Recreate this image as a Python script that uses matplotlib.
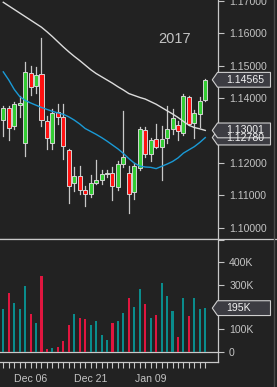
import matplotlib
matplotlib.use("Agg")
import matplotlib.pyplot as plt
from matplotlib.patches import Rectangle, Polygon
from matplotlib.lines import Line2D
from matplotlib.transforms import IdentityTransform

plt.rcParams['font.family'] = ['Liberation Sans', 'DejaVu Sans']

# ---- data ----
opens = [1.1332, 1.1369, 1.1314, 1.1380, 1.1261, 1.1479, 1.1438, 1.1475, 1.1330, 1.1262,
         1.1357, 1.1342, 1.1239, 1.1139, 1.1159, 1.1116, 1.1104, 1.1139, 1.1147, 1.1166,
         1.1168, 1.1126, 1.1196, 1.1167, 1.1109, 1.1185, 1.1301, 1.1227, 1.1275, 1.1250,
         1.1276, 1.1304, 1.1317, 1.1292, 1.1402, 1.1323, 1.1352, 1.1395]
highs = [1.1376, 1.1376, 1.1387, 1.1407, 1.1512, 1.1500, 1.1497, 1.1587, 1.1345, 1.1366,
         1.1382, 1.1382, 1.1243, 1.1186, 1.1191, 1.1129, 1.1163, 1.1209, 1.1178, 1.1178,
         1.1187, 1.1206, 1.1359, 1.1189, 1.1200, 1.1311, 1.1310, 1.1278, 1.1320, 1.1314,
         1.1376, 1.1366, 1.1330, 1.1412, 1.1406, 1.1363, 1.1402, 1.1459]
lows = [1.1283, 1.1270, 1.1304, 1.1340, 1.1220, 1.1410, 1.1417, 1.1314, 1.1242, 1.1242,
        1.1321, 1.1211, 1.1077, 1.1113, 1.1103, 1.1065, 1.1093, 1.1135, 1.1136, 1.1155,
        1.1086, 1.1117, 1.1186, 1.1044, 1.1088, 1.1177, 1.1217, 1.1206, 1.1247, 1.1146,
        1.1262, 1.1289, 1.1270, 1.1287, 1.1317, 1.1278, 1.1311, 1.1392]
closes = [1.1369, 1.1307, 1.1381, 1.1385, 1.1482, 1.1435, 1.1472, 1.1332, 1.1276, 1.1354,
          1.1340, 1.1253, 1.1129, 1.1159, 1.1117, 1.1104, 1.1138, 1.1148, 1.1166, 1.1168,
          1.1127, 1.1196, 1.1217, 1.1103, 1.1189, 1.1304, 1.1227, 1.1270, 1.1250, 1.1275,
          1.1304, 1.1338, 1.1299, 1.1406, 1.1321, 1.1354, 1.1390, 1.14565]
volumes = [193, 263, 216, 193, 293, 170, 128, 337, 12, 17, 22, 49, 119, 170, 151, 147, 119, 137,
           73, 54, 128, 137, 175, 239, 198, 281, 212, 151, 165, 309, 249, 184, 68, 239, 161,
           239, 193, 195]  # thousands
ma_slow = [1.1696, 1.1685, 1.1674, 1.1663, 1.1652, 1.1641, 1.1630, 1.1619, 1.1605, 1.1590,
           1.1574, 1.1558, 1.1543, 1.1529, 1.1516, 1.1502, 1.1488, 1.1476, 1.1466, 1.1456,
           1.1446, 1.1435, 1.1425, 1.1414, 1.1408, 1.1402, 1.1397, 1.1389, 1.1381, 1.1371,
           1.1361, 1.1351, 1.1340, 1.1328, 1.1316, 1.1309, 1.1305, 1.13001]
ma_fast = [1.1481, 1.1456, 1.1427, 1.1405, 1.1393, 1.1385, 1.1378, 1.1371, 1.1365, 1.1359,
           1.1354, 1.1350, 1.1342, 1.1332, 1.1320, 1.1306, 1.1297, 1.1288, 1.1278, 1.1267,
           1.1255, 1.1243, 1.1229, 1.1213, 1.1199, 1.1190, 1.1187, 1.1186, 1.1182, 1.1189,
           1.1196, 1.1204, 1.1215, 1.1230, 1.1240, 1.1250, 1.1263, 1.1278]
date_pos = [5, 16, 27]
date_labels = ["Dec 06", "Dec 21", "Jan 09"]
price_ticks = [1.10, 1.11, 1.12, 1.13, 1.14, 1.15, 1.16, 1.17]
vol_ticks = [0, 100, 200, 300, 400, 500]
vol_labels = ['0', '100K', '', '300K', '400K', '']  # 200K sits under the last-value tag

BG = '#222222'
FG = '#c4c4c4'
UP, DN = '#33cc33', '#ff1111'
VUP, VDN = '#0a8c8c', '#e0163f'

W, H = 277, 387
fig = plt.figure(figsize=(W / 100, H / 100), dpi=100, facecolor=BG)

ax = fig.add_axes([0, 1 - 239.3 / H, 218 / W, 239.3 / H], facecolor=BG)
axv = fig.add_axes([0, 1 - 361.7 / H, 218 / W, (361.7 - 239.3) / H], facecolor=BG)

n = len(closes)
xs = list(range(n))

# candles
for i in xs:
    o, h, l, c = opens[i], highs[i], lows[i], closes[i]
    ax.plot([i, i], [l, h], color='#c8c8c8', lw=0.9, zorder=2)
    col = UP if c >= o else DN
    ax.add_patch(Rectangle((i - 0.37, min(o, c)), 0.74, max(abs(c - o), 0.00005),
                           facecolor=col, edgecolor='#d4d4d4', lw=0.7, zorder=3))

ax.plot(xs, ma_slow, color='#dcdcdc', lw=1.0, zorder=4)
ax.plot(xs, ma_fast, color='#1a9ad6', lw=1.0, zorder=4)

ax.set_xlim(-0.6, 39.33)
ax.set_ylim(1.09636, 1.17031)
ax.yaxis.tick_right()
ax.set_yticks(price_ticks)
ax.set_yticklabels([f'{t:.5f}' for t in price_ticks])
ax.tick_params(axis='y', colors=FG, length=4, width=0.8, labelsize=7.6, pad=4)
ax.tick_params(axis='x', bottom=False, labelbottom=False)
for s in ['left', 'top']:
    ax.spines[s].set_visible(False)
for s in ['right', 'bottom']:
    ax.spines[s].set_color('#c8c8c8')
    ax.spines[s].set_linewidth(0.9)

ax.text(0.803, 0.835, '2017', transform=ax.transAxes, ha='center', va='center',
        color=FG, fontsize=10.5)

# volume
vcols = [VUP if closes[i] >= opens[i] else VDN for i in xs]
axv.bar(xs, volumes, width=0.38, color=vcols, zorder=3)
axv.set_xlim(-0.6, 39.33)
axv.set_ylim(-44.7, 503)
axv.axhline(0, color='#c8c8c8', lw=0.9, zorder=2)
axv.yaxis.tick_right()
axv.set_yticks(vol_ticks)
axv.set_yticklabels(vol_labels)
axv.tick_params(axis='y', colors=FG, length=4, width=0.8, labelsize=7.6, pad=4)
axv.set_xticks(date_pos)
axv.set_xticklabels(date_labels)
axv.set_xticks(xs, minor=True)
axv.tick_params(axis='x', which='both', colors=FG, length=4, width=0.8, labelsize=7.6, pad=5)
for s in ['left', 'top']:
    axv.spines[s].set_visible(False)
for s in ['right', 'bottom']:
    axv.spines[s].set_color('#c8c8c8')
    axv.spines[s].set_linewidth(0.9)

# divider across full width and right border
fig.add_artist(Line2D([0, 1], [1 - 239.3 / H] * 2, transform=fig.transFigure,
                      color='#c8c8c8', lw=0.9))
fig.add_artist(Line2D([273.5 / W] * 2, [0, 1], transform=fig.transFigure,
                      color='#4a4a4a', lw=1.0))


def tag(axis, value, text):
    y = axis.transData.transform((0, value))[1]
    hh = 7.4
    pts = [(212.3, y), (217.5, y + hh), (270.5, y + hh), (270.5, y - hh), (217.5, y - hh)]
    fig.add_artist(Polygon(pts, closed=True, transform=IdentityTransform(),
                           facecolor='#3c3c42', edgecolor='#cfcfcf', lw=0.8))
    fig.text(226.5 / W, y / H, text, color='#f2f2f2', fontsize=7.6, ha='left', va='center')


tag(ax, ma_fast[-1], f'{ma_fast[-1]:.5f}')
tag(ax, ma_slow[-1], f'{ma_slow[-1]:.5f}')
tag(ax, closes[-1], f'{closes[-1]:.5f}')
tag(axv, volumes[-1], f'{volumes[-1]}K')

fig.savefig('out.png', dpi=100, facecolor=BG)
